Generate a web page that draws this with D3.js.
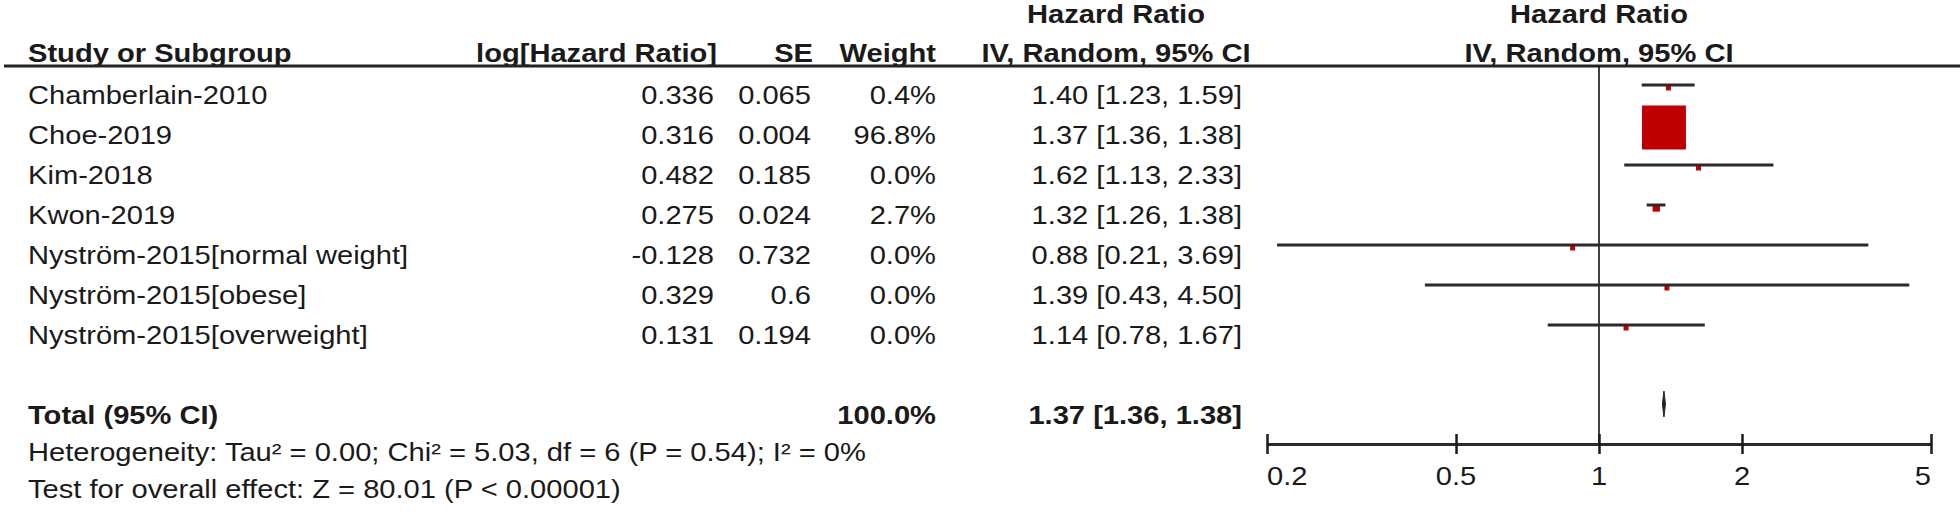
<!DOCTYPE html>
<html>
<head>
<meta charset="utf-8">
<script src="https://cdn.jsdelivr.net/npm/d3@7"></script>
<style>
  html, body { margin: 0; padding: 0; background: #fff; }
  svg { display: block; }
</style>
</head>
<body>
<svg id="chart" width="1960" height="517"></svg>
<script>
// ---------------- data ----------------
const studies = ["Chamberlain-2010", "Choe-2019", "Kim-2018", "Kwon-2019",
  "Nyström-2015[normal weight]", "Nyström-2015[obese]", "Nyström-2015[overweight]"];
const logHR = [0.336, 0.316, 0.482, 0.275, -0.128, 0.329, 0.131];
const se = [0.065, 0.004, 0.185, 0.024, 0.732, 0.6, 0.194];
const weight = [0.4, 96.8, 0.0, 2.7, 0.0, 0.0, 0.0];
const hr = [1.40, 1.37, 1.62, 1.32, 0.88, 1.39, 1.14];
const ciLow = [1.23, 1.36, 1.13, 1.26, 0.21, 0.43, 0.78];
const ciHigh = [1.59, 1.38, 2.33, 1.38, 3.69, 4.50, 1.67];
const total = { weight: 100.0, hr: 1.37, lo: 1.36, hi: 1.38 };
const axisTicks = [0.2, 0.5, 1, 2, 5];
const headers = ["Study or Subgroup", "log[Hazard Ratio]", "SE", "Weight", "IV, Random, 95% CI"];
const heterogeneity = "Heterogeneity: Tau\u00B2 = 0.00; Chi\u00B2 = 5.03, df = 6 (P = 0.54); I\u00B2 = 0%";
const overall = "Test for overall effect: Z = 80.01 (P < 0.00001)";

// ---------------- layout ----------------
const FS = 25, SX = 1.165, INK = "#1a1a1a", RED = "#c00000";
const svg = d3.select("#chart");
const x = d3.scaleLog().domain([0.2, 5]).range([1267, 1931]);
const rowY = d3.scaleLinear().domain([0, 1]).range([85, 125]); // CI line y per row index
const size = d3.scaleSqrt().domain([0, 96.8]).range([0, 44]);
const col = { study: 28, log: 714, se: 811, weight: 936, ci: 1242, ciMid: 1116 };
const axisY = 444;

function txt(g, xx, yy, s, anchor, bold) {
  return g.append("text")
    .attr("transform", `translate(${xx},${yy}) scale(${SX},1)`)
    .attr("text-anchor", anchor || "start")
    .attr("font-family", "'Liberation Sans', Arial, sans-serif")
    .attr("font-size", FS)
    .attr("font-weight", bold ? "bold" : "normal")
    .attr("fill", INK)
    .text(s);
}

const gT = svg.append("g");
// header
txt(gT, col.ciMid, 23, "Hazard Ratio", "middle", true);
txt(gT, x(1), 23, "Hazard Ratio", "middle", true);
txt(gT, col.study, 62, headers[0], "start", true);
txt(gT, col.log + 3, 62, headers[1], "end", true);
txt(gT, col.se + 2, 62, headers[2], "end", true);
txt(gT, col.weight, 62, headers[3], "end", true);
txt(gT, col.ciMid, 62, headers[4], "middle", true);
txt(gT, x(1), 62, headers[4], "middle", true);
svg.append("line").attr("x1", 4).attr("x2", 1960).attr("y1", 66).attr("y2", 66)
  .attr("stroke", "#222").attr("stroke-width", 3);

// rows
studies.forEach((s, i) => {
  const by = rowY(i) + 19;
  txt(gT, col.study, by, s, "start", false);
  txt(gT, col.log, by, String(logHR[i]), "end", false);
  txt(gT, col.se, by, String(se[i]), "end", false);
  txt(gT, col.weight, by, weight[i].toFixed(1) + "%", "end", false);
  txt(gT, col.ci, by, `${hr[i].toFixed(2)} [${ciLow[i].toFixed(2)}, ${ciHigh[i].toFixed(2)}]`, "end", false);
});

// total row
const totY = rowY(8) + 19;
txt(gT, col.study, totY, "Total (95% CI)", "start", true);
txt(gT, col.weight, totY, total.weight.toFixed(1) + "%", "end", true);
txt(gT, col.ci, totY, `${total.hr.toFixed(2)} [${total.lo.toFixed(2)}, ${total.hi.toFixed(2)}]`, "end", true);
txt(gT, col.study, 461, heterogeneity, "start", false);
txt(gT, col.study, 498, overall, "start", false);

// plot: vertical line of no effect
svg.append("line").attr("x1", x(1)).attr("x2", x(1)).attr("y1", 66).attr("y2", axisY)
  .attr("stroke", "#111").attr("stroke-width", 1.6);

// markers then CI lines
const gP = svg.append("g");
studies.forEach((s, i) => {
  const cy = rowY(i);
  const sz = Math.max(5, size(weight[i]));
  const off = sz > 20 ? 2.5 : 3;
  gP.append("rect")
    .attr("x", x(hr[i]) - sz / 2).attr("y", cy + off - sz / 2)
    .attr("width", sz).attr("height", sz).attr("fill", RED);
  if (sz < 20) {
    gP.append("line").attr("x1", x(ciLow[i])).attr("x2", x(ciHigh[i]))
      .attr("y1", cy).attr("y2", cy).attr("stroke", "#2a2a2a").attr("stroke-width", 3);
  }
});

// diamond
const dy = rowY(8) - 1;
gP.append("path")
  .attr("d", `M${x(total.lo)},${dy} L${x(total.hr)},${dy - 13} L${x(total.hi)},${dy} L${x(total.hr)},${dy + 13} Z`)
  .attr("fill", "#222").attr("stroke", "#222").attr("stroke-width", 1);

// axis
const gA = svg.append("g").attr("transform", `translate(0,${axisY})`);
const ax = d3.axisBottom(x).tickValues(axisTicks).tickSize(0).tickFormat(d => String(d));
gA.call(ax);
gA.select(".domain").attr("stroke", "#2a2a2a").attr("stroke-width", 3);
gA.selectAll(".tick text").remove();
gA.selectAll(".tick").append("line").attr("y1", -10).attr("y2", 10)
  .attr("stroke", "#1a1a1a").attr("stroke-width", 2.5);
axisTicks.forEach((t, i) => {
  const anchor = i === 0 ? "start" : (i === axisTicks.length - 1 ? "end" : "middle");
  txt(svg, x(t), 485, String(t), anchor, false);
});
</script>
</body>
</html>
